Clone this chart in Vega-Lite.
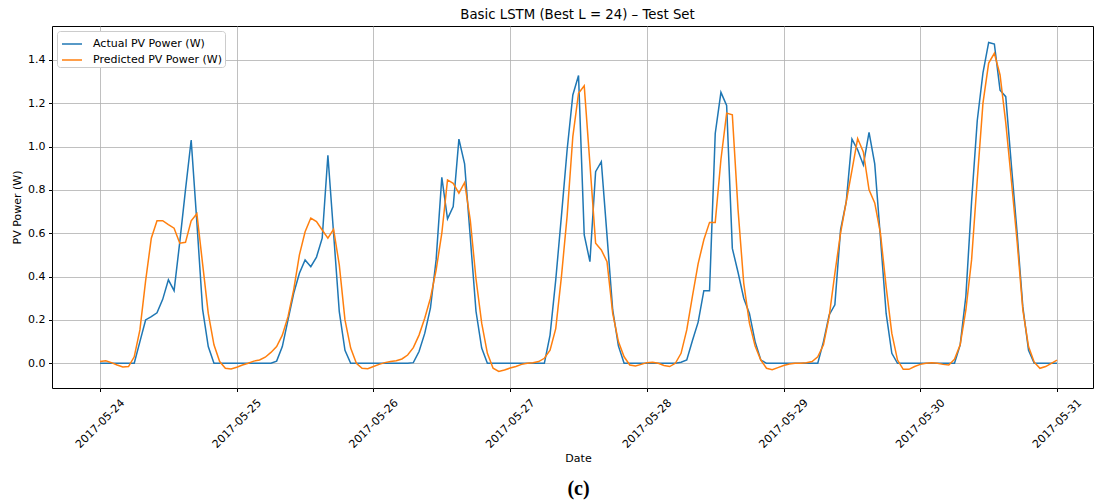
{
  "$schema": "https://vega.github.io/schema/vega-lite/v6.json",
  "width": 1041,
  "height": 362,
  "autosize": {"type": "none"},
  "padding": {"left": 52, "top": 26, "right": 2, "bottom": 116},
  "background": "white",
  "config": {
    "font": "DejaVu Sans",
    "view": {"stroke": "black", "strokeWidth": 1},
    "axis": {
      "labelFont": "DejaVu Sans",
      "titleFont": "DejaVu Sans",
      "labelColor": "black",
      "titleColor": "black",
      "tickColor": "black",
      "gridColor": "#b0b0b0",
      "gridWidth": 0.8,
      "domain": false,
      "labelFontSize": 11,
      "titleFontSize": 11,
      "titleFontWeight": "normal",
      "tickSize": 3.5,
      "labelPadding": 3.5
    },
    "legend": {"labelFont": "DejaVu Sans"}
  },
  "title": {
    "text": "Basic LSTM (Best L = 24) – Test Set",
    "fontSize": 13.3,
    "fontWeight": "normal",
    "font": "DejaVu Sans",
    "color": "black",
    "offset": 5,
    "dx": 5
  },
  "data": {
    "values": [
      {"t": "2017-05-24T00:00", "actual": 0, "predicted": 0.008},
      {"t": "2017-05-24T01:00", "actual": 0, "predicted": 0.012},
      {"t": "2017-05-24T02:00", "actual": 0, "predicted": 0.003},
      {"t": "2017-05-24T03:00", "actual": 0, "predicted": -0.008},
      {"t": "2017-05-24T04:00", "actual": 0, "predicted": -0.017},
      {"t": "2017-05-24T05:00", "actual": 0, "predicted": -0.015},
      {"t": "2017-05-24T06:00", "actual": 0, "predicted": 0.03},
      {"t": "2017-05-24T07:00", "actual": 0.1, "predicted": 0.154},
      {"t": "2017-05-24T08:00", "actual": 0.2, "predicted": 0.38},
      {"t": "2017-05-24T09:00", "actual": 0.215, "predicted": 0.577},
      {"t": "2017-05-24T10:00", "actual": 0.233, "predicted": 0.658},
      {"t": "2017-05-24T11:00", "actual": 0.295, "predicted": 0.658},
      {"t": "2017-05-24T12:00", "actual": 0.385, "predicted": 0.64},
      {"t": "2017-05-24T13:00", "actual": 0.335, "predicted": 0.623},
      {"t": "2017-05-24T14:00", "actual": 0.56, "predicted": 0.554},
      {"t": "2017-05-24T15:00", "actual": 0.8, "predicted": 0.558},
      {"t": "2017-05-24T16:00", "actual": 1.03, "predicted": 0.657},
      {"t": "2017-05-24T17:00", "actual": 0.65, "predicted": 0.69},
      {"t": "2017-05-24T18:00", "actual": 0.25, "predicted": 0.46},
      {"t": "2017-05-24T19:00", "actual": 0.077, "predicted": 0.23},
      {"t": "2017-05-24T20:00", "actual": 0, "predicted": 0.085},
      {"t": "2017-05-24T21:00", "actual": 0, "predicted": 0.008},
      {"t": "2017-05-24T22:00", "actual": 0, "predicted": -0.023},
      {"t": "2017-05-24T23:00", "actual": 0, "predicted": -0.026},
      {"t": "2017-05-25T00:00", "actual": 0, "predicted": -0.018},
      {"t": "2017-05-25T01:00", "actual": 0, "predicted": -0.008},
      {"t": "2017-05-25T02:00", "actual": 0, "predicted": 0},
      {"t": "2017-05-25T03:00", "actual": 0, "predicted": 0.01},
      {"t": "2017-05-25T04:00", "actual": 0, "predicted": 0.015},
      {"t": "2017-05-25T05:00", "actual": 0, "predicted": 0.028},
      {"t": "2017-05-25T06:00", "actual": 0, "predicted": 0.05},
      {"t": "2017-05-25T07:00", "actual": 0.01, "predicted": 0.077},
      {"t": "2017-05-25T08:00", "actual": 0.077, "predicted": 0.13},
      {"t": "2017-05-25T09:00", "actual": 0.2, "predicted": 0.215},
      {"t": "2017-05-25T10:00", "actual": 0.323, "predicted": 0.34},
      {"t": "2017-05-25T11:00", "actual": 0.415, "predicted": 0.5},
      {"t": "2017-05-25T12:00", "actual": 0.477, "predicted": 0.607},
      {"t": "2017-05-25T13:00", "actual": 0.446, "predicted": 0.67},
      {"t": "2017-05-25T14:00", "actual": 0.49, "predicted": 0.654},
      {"t": "2017-05-25T15:00", "actual": 0.577, "predicted": 0.615},
      {"t": "2017-05-25T16:00", "actual": 0.96, "predicted": 0.577},
      {"t": "2017-05-25T17:00", "actual": 0.6, "predicted": 0.618},
      {"t": "2017-05-25T18:00", "actual": 0.238, "predicted": 0.454},
      {"t": "2017-05-25T19:00", "actual": 0.06, "predicted": 0.2},
      {"t": "2017-05-25T20:00", "actual": 0, "predicted": 0.07},
      {"t": "2017-05-25T21:00", "actual": 0, "predicted": 0},
      {"t": "2017-05-25T22:00", "actual": 0, "predicted": -0.023},
      {"t": "2017-05-25T23:00", "actual": 0, "predicted": -0.025},
      {"t": "2017-05-26T00:00", "actual": 0, "predicted": -0.015},
      {"t": "2017-05-26T01:00", "actual": 0, "predicted": -0.005},
      {"t": "2017-05-26T02:00", "actual": 0, "predicted": 0.003},
      {"t": "2017-05-26T03:00", "actual": 0, "predicted": 0.008},
      {"t": "2017-05-26T04:00", "actual": 0, "predicted": 0.012},
      {"t": "2017-05-26T05:00", "actual": 0, "predicted": 0.02},
      {"t": "2017-05-26T06:00", "actual": 0, "predicted": 0.038},
      {"t": "2017-05-26T07:00", "actual": 0.003, "predicted": 0.072},
      {"t": "2017-05-26T08:00", "actual": 0.054, "predicted": 0.13},
      {"t": "2017-05-26T09:00", "actual": 0.138, "predicted": 0.208},
      {"t": "2017-05-26T10:00", "actual": 0.254, "predicted": 0.3},
      {"t": "2017-05-26T11:00", "actual": 0.477, "predicted": 0.43},
      {"t": "2017-05-26T12:00", "actual": 0.858, "predicted": 0.6},
      {"t": "2017-05-26T13:00", "actual": 0.666, "predicted": 0.846},
      {"t": "2017-05-26T14:00", "actual": 0.723, "predicted": 0.83},
      {"t": "2017-05-26T15:00", "actual": 1.034, "predicted": 0.785},
      {"t": "2017-05-26T16:00", "actual": 0.92, "predicted": 0.834},
      {"t": "2017-05-26T17:00", "actual": 0.58, "predicted": 0.66},
      {"t": "2017-05-26T18:00", "actual": 0.24, "predicted": 0.39},
      {"t": "2017-05-26T19:00", "actual": 0.07, "predicted": 0.185},
      {"t": "2017-05-26T20:00", "actual": 0, "predicted": 0.046},
      {"t": "2017-05-26T21:00", "actual": 0, "predicted": -0.023},
      {"t": "2017-05-26T22:00", "actual": 0, "predicted": -0.038},
      {"t": "2017-05-26T23:00", "actual": 0, "predicted": -0.031},
      {"t": "2017-05-27T00:00", "actual": 0, "predicted": -0.022},
      {"t": "2017-05-27T01:00", "actual": 0, "predicted": -0.015},
      {"t": "2017-05-27T02:00", "actual": 0, "predicted": -0.005},
      {"t": "2017-05-27T03:00", "actual": 0, "predicted": 0},
      {"t": "2017-05-27T04:00", "actual": 0, "predicted": 0.003},
      {"t": "2017-05-27T05:00", "actual": 0, "predicted": 0.008},
      {"t": "2017-05-27T06:00", "actual": 0, "predicted": 0.023},
      {"t": "2017-05-27T07:00", "actual": 0.13, "predicted": 0.06},
      {"t": "2017-05-27T08:00", "actual": 0.385, "predicted": 0.16},
      {"t": "2017-05-27T09:00", "actual": 0.68, "predicted": 0.4},
      {"t": "2017-05-27T10:00", "actual": 0.985, "predicted": 0.68},
      {"t": "2017-05-27T11:00", "actual": 1.238, "predicted": 1.046},
      {"t": "2017-05-27T12:00", "actual": 1.328, "predicted": 1.246},
      {"t": "2017-05-27T13:00", "actual": 0.592, "predicted": 1.28},
      {"t": "2017-05-27T14:00", "actual": 0.469, "predicted": 0.92},
      {"t": "2017-05-27T15:00", "actual": 0.884, "predicted": 0.554},
      {"t": "2017-05-27T16:00", "actual": 0.93, "predicted": 0.523},
      {"t": "2017-05-27T17:00", "actual": 0.59, "predicted": 0.469},
      {"t": "2017-05-27T18:00", "actual": 0.246, "predicted": 0.23},
      {"t": "2017-05-27T19:00", "actual": 0.08, "predicted": 0.1},
      {"t": "2017-05-27T20:00", "actual": 0, "predicted": 0.03},
      {"t": "2017-05-27T21:00", "actual": 0, "predicted": -0.008},
      {"t": "2017-05-27T22:00", "actual": 0, "predicted": -0.012},
      {"t": "2017-05-27T23:00", "actual": 0, "predicted": -0.005},
      {"t": "2017-05-28T00:00", "actual": 0, "predicted": 0.003},
      {"t": "2017-05-28T01:00", "actual": 0, "predicted": 0.005},
      {"t": "2017-05-28T02:00", "actual": 0, "predicted": 0},
      {"t": "2017-05-28T03:00", "actual": 0, "predicted": -0.01},
      {"t": "2017-05-28T04:00", "actual": 0, "predicted": -0.015},
      {"t": "2017-05-28T05:00", "actual": 0, "predicted": 0},
      {"t": "2017-05-28T06:00", "actual": 0.005, "predicted": 0.046},
      {"t": "2017-05-28T07:00", "actual": 0.015, "predicted": 0.154},
      {"t": "2017-05-28T08:00", "actual": 0.105, "predicted": 0.31},
      {"t": "2017-05-28T09:00", "actual": 0.19, "predicted": 0.46},
      {"t": "2017-05-28T10:00", "actual": 0.335, "predicted": 0.57},
      {"t": "2017-05-28T11:00", "actual": 0.335, "predicted": 0.65},
      {"t": "2017-05-28T12:00", "actual": 1.06, "predicted": 0.65},
      {"t": "2017-05-28T13:00", "actual": 1.25, "predicted": 0.94},
      {"t": "2017-05-28T14:00", "actual": 1.19, "predicted": 1.154},
      {"t": "2017-05-28T15:00", "actual": 0.53, "predicted": 1.146},
      {"t": "2017-05-28T16:00", "actual": 0.42, "predicted": 0.71},
      {"t": "2017-05-28T17:00", "actual": 0.3, "predicted": 0.37},
      {"t": "2017-05-28T18:00", "actual": 0.23, "predicted": 0.185},
      {"t": "2017-05-28T19:00", "actual": 0.1, "predicted": 0.08},
      {"t": "2017-05-28T20:00", "actual": 0.015, "predicted": 0.015},
      {"t": "2017-05-28T21:00", "actual": 0, "predicted": -0.023},
      {"t": "2017-05-28T22:00", "actual": 0, "predicted": -0.03},
      {"t": "2017-05-28T23:00", "actual": 0, "predicted": -0.02},
      {"t": "2017-05-29T00:00", "actual": 0, "predicted": -0.01},
      {"t": "2017-05-29T01:00", "actual": 0, "predicted": -0.003},
      {"t": "2017-05-29T02:00", "actual": 0, "predicted": 0},
      {"t": "2017-05-29T03:00", "actual": 0, "predicted": 0},
      {"t": "2017-05-29T04:00", "actual": 0, "predicted": 0.003},
      {"t": "2017-05-29T05:00", "actual": 0, "predicted": 0.008},
      {"t": "2017-05-29T06:00", "actual": 0, "predicted": 0.03},
      {"t": "2017-05-29T07:00", "actual": 0.1, "predicted": 0.085},
      {"t": "2017-05-29T08:00", "actual": 0.223, "predicted": 0.215},
      {"t": "2017-05-29T09:00", "actual": 0.27, "predicted": 0.415},
      {"t": "2017-05-29T10:00", "actual": 0.615, "predicted": 0.6},
      {"t": "2017-05-29T11:00", "actual": 0.746, "predicted": 0.746},
      {"t": "2017-05-29T12:00", "actual": 1.034, "predicted": 0.89},
      {"t": "2017-05-29T13:00", "actual": 0.985, "predicted": 1.037},
      {"t": "2017-05-29T14:00", "actual": 0.915, "predicted": 0.975},
      {"t": "2017-05-29T15:00", "actual": 1.065, "predicted": 0.8},
      {"t": "2017-05-29T16:00", "actual": 0.92, "predicted": 0.74},
      {"t": "2017-05-29T17:00", "actual": 0.58, "predicted": 0.6},
      {"t": "2017-05-29T18:00", "actual": 0.23, "predicted": 0.354},
      {"t": "2017-05-29T19:00", "actual": 0.046, "predicted": 0.138},
      {"t": "2017-05-29T20:00", "actual": 0, "predicted": 0.015},
      {"t": "2017-05-29T21:00", "actual": 0, "predicted": -0.028},
      {"t": "2017-05-29T22:00", "actual": 0, "predicted": -0.028},
      {"t": "2017-05-29T23:00", "actual": 0, "predicted": -0.015},
      {"t": "2017-05-30T00:00", "actual": 0, "predicted": -0.005},
      {"t": "2017-05-30T01:00", "actual": 0, "predicted": 0},
      {"t": "2017-05-30T02:00", "actual": 0, "predicted": 0.003},
      {"t": "2017-05-30T03:00", "actual": 0, "predicted": 0},
      {"t": "2017-05-30T04:00", "actual": 0, "predicted": -0.005},
      {"t": "2017-05-30T05:00", "actual": 0, "predicted": -0.008},
      {"t": "2017-05-30T06:00", "actual": 0, "predicted": 0.018},
      {"t": "2017-05-30T07:00", "actual": 0.085, "predicted": 0.085},
      {"t": "2017-05-30T08:00", "actual": 0.31, "predicted": 0.246},
      {"t": "2017-05-30T09:00", "actual": 0.746, "predicted": 0.477},
      {"t": "2017-05-30T10:00", "actual": 1.12, "predicted": 0.846},
      {"t": "2017-05-30T11:00", "actual": 1.34, "predicted": 1.2},
      {"t": "2017-05-30T12:00", "actual": 1.48, "predicted": 1.385},
      {"t": "2017-05-30T13:00", "actual": 1.473, "predicted": 1.43},
      {"t": "2017-05-30T14:00", "actual": 1.26, "predicted": 1.33},
      {"t": "2017-05-30T15:00", "actual": 1.23, "predicted": 1.11},
      {"t": "2017-05-30T16:00", "actual": 0.91, "predicted": 0.84},
      {"t": "2017-05-30T17:00", "actual": 0.6, "predicted": 0.56},
      {"t": "2017-05-30T18:00", "actual": 0.26, "predicted": 0.246},
      {"t": "2017-05-30T19:00", "actual": 0.06, "predicted": 0.077},
      {"t": "2017-05-30T20:00", "actual": 0, "predicted": 0.005},
      {"t": "2017-05-30T21:00", "actual": 0, "predicted": -0.023},
      {"t": "2017-05-30T22:00", "actual": 0, "predicted": -0.015},
      {"t": "2017-05-30T23:00", "actual": 0, "predicted": 0},
      {"t": "2017-05-31T00:00", "actual": 0, "predicted": 0.015}
    ]
  },
  "transform": [{"fold": ["actual", "predicted"], "as": ["series", "power"]}],
  "layer": [
    {
      "mark": {"type": "line", "strokeWidth": 1.5},
      "encoding": {
        "x": {
          "field": "t",
          "type": "temporal",
          "scale": {
            "domain": [
              {"year": 2017, "month": 5, "date": 23, "hours": 15, "minutes": 34},
              {"year": 2017, "month": 5, "date": 31, "hours": 6, "minutes": 19}
            ]
          },
          "axis": {
            "orient": "bottom",
            "values": [
              {"year": 2017, "month": 5, "date": 24},
              {"year": 2017, "month": 5, "date": 25},
              {"year": 2017, "month": 5, "date": 26},
              {"year": 2017, "month": 5, "date": 27},
              {"year": 2017, "month": 5, "date": 28},
              {"year": 2017, "month": 5, "date": 29},
              {"year": 2017, "month": 5, "date": 30},
              {"year": 2017, "month": 5, "date": 31}
            ],
            "format": "%Y-%m-%d",
            "labelAngle": -45,
            "labelAlign": "center",
            "labelBaseline": "middle",
            "labelPadding": 32,
            "labelFlush": false,
            "labelOverlap": false,
            "title": "Date",
            "titlePadding": 3,
            "titleX": 526,
            "grid": true
          }
        },
        "y": {
          "field": "power",
          "type": "quantitative",
          "scale": {"domain": [-0.114, 1.556], "nice": false, "zero": false},
          "axis": {
            "values": [0, 0.2, 0.4, 0.6, 0.8, 1.0, 1.2, 1.4],
            "format": ".1f",
            "title": "PV Power (W)",
            "titlePadding": 5,
            "grid": true
          }
        },
        "color": {
          "field": "series",
          "type": "nominal",
          "scale": {"domain": ["actual", "predicted"], "range": ["#1f77b4", "#ff7f0e"]},
          "legend": {
            "title": null,
            "orient": "top-left",
            "offset": 5,
            "symbolType": "stroke",
            "symbolStrokeWidth": 1.5,
            "symbolSize": 400,
            "symbolOffset": 2,
            "labelFontSize": 11,
            "labelColor": "black",
            "labelOffset": 10,
            "strokeColor": "#cccccc",
            "fillColor": "white",
            "padding": 2,
            "cornerRadius": 3,
            "rowPadding": 0,
            "labelExpr": "datum.label == 'actual' ? 'Actual PV Power (W)' : 'Predicted PV Power (W)'"
          }
        }
      }
    },
    {
      "mark": {"type": "point", "opacity": 0},
      "encoding": {
        "x": {
          "field": "t",
          "type": "temporal",
          "axis": {
            "orient": "bottom",
            "labels": false,
            "ticks": false,
            "grid": false,
            "domain": false,
            "title": "(c)",
            "titleFont": "Liberation Serif",
            "titleFontWeight": "bold",
            "titleFontSize": 20,
            "titlePadding": 90,
            "titleX": 526
          }
        },
        "y": {"field": "power", "type": "quantitative", "axis": null}
      }
    }
  ],
  "resolve": {"axis": {"x": "independent", "y": "independent"}}
}
